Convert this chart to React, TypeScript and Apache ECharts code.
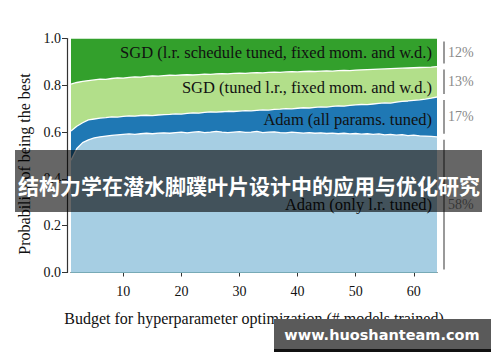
import React, { useEffect, useRef } from "react";
import * as echarts from "echarts";

// Budget (number of models trained), 1..64
const budgets = Array.from({ length: 64 }, (_, i) => String(i + 1));

// Cumulative probability of being the best, stacked bottom to top
const adamLrTop = [
  0.48, 0.53, 0.555, 0.567, 0.575, 0.58, 0.583, 0.586, 0.588, 0.59,
  0.592, 0.59, 0.593, 0.595, 0.593, 0.596, 0.597, 0.595, 0.598, 0.6,
  0.597, 0.6, 0.602, 0.598, 0.6, 0.603, 0.6, 0.598, 0.6, 0.602,
  0.599, 0.6, 0.603, 0.598, 0.6, 0.601, 0.598, 0.597, 0.6, 0.598,
  0.596, 0.598, 0.595, 0.597, 0.594, 0.596, 0.593, 0.595, 0.592, 0.594,
  0.591, 0.593, 0.59, 0.592, 0.588, 0.59, 0.587, 0.589, 0.585, 0.587,
  0.584, 0.583, 0.582, 0.58,
];
const adamAllTop = [
  0.605, 0.625, 0.64, 0.652, 0.656, 0.66, 0.662, 0.665, 0.664, 0.667,
  0.669, 0.668, 0.671, 0.672, 0.67, 0.673, 0.675, 0.676, 0.678, 0.677,
  0.68, 0.682, 0.681, 0.684, 0.686, 0.685, 0.687, 0.689, 0.688, 0.69,
  0.692, 0.691, 0.693, 0.695, 0.694, 0.697, 0.698, 0.7, 0.699, 0.702,
  0.704, 0.703, 0.706, 0.708, 0.707, 0.71, 0.712, 0.711, 0.714, 0.716,
  0.718, 0.717, 0.72, 0.723, 0.725, 0.724, 0.728, 0.731, 0.733, 0.736,
  0.738, 0.741, 0.745, 0.75,
];
const sgdTunedTop = [
  0.805, 0.812, 0.817, 0.82, 0.823, 0.826, 0.825, 0.829, 0.832, 0.831,
  0.834, 0.836, 0.835, 0.838, 0.84, 0.839, 0.841, 0.843, 0.842, 0.844,
  0.845, 0.844, 0.846, 0.848, 0.847, 0.849, 0.85, 0.849, 0.851, 0.852,
  0.851, 0.853, 0.854, 0.853, 0.855, 0.856, 0.855, 0.857, 0.858, 0.857,
  0.859, 0.86, 0.859, 0.861, 0.862, 0.861, 0.863, 0.864, 0.863, 0.865,
  0.866, 0.867, 0.868, 0.869, 0.87, 0.871, 0.872, 0.873, 0.874, 0.875,
  0.876, 0.877, 0.878, 0.88,
];
// The four shares always sum to one
const sgdScheduleTop = budgets.map(() => 1);

const seriesNames = [
  "Adam (only l.r. tuned)",
  "Adam (all params. tuned)",
  "SGD (tuned l.r., fixed mom. and w.d.)",
  "SGD (l.r. schedule tuned, fixed mom. and w.d.)",
];
const seriesColors = ["#a6cee3", "#1f78b4", "#b2df8a", "#33a02c"];
// Share of each optimizer at the largest budget, in percent
const finalShares = [58, 17, 13, 12];

const SERIF = "'Liberation Serif', 'DejaVu Serif', serif";

export default function App() {
  const ref = useRef<HTMLDivElement>(null);

  useEffect(() => {
    if (!ref.current) return;
    const chart = echarts.init(ref.current, undefined, { renderer: "svg" });

    const layers = [adamLrTop, adamAllTop, sgdTunedTop, sgdScheduleTop];

    // Draw top layer first so each lower boundary fills over it
    const areaSeries = layers
      .map((data, i) => ({
        name: seriesNames[i],
        type: "line",
        data,
        symbol: "none",
        smooth: false,
        lineStyle: { color: "#ffffff", width: i === 3 ? 0 : 1.3 },
        areaStyle: { color: seriesColors[i], opacity: 1, origin: "start" },
      }))
      .reverse();

    // Bracket spans: cumulative low/high per optimizer at the final budget
    const bracketData: number[][] = [];
    let acc = 0;
    finalShares.forEach((s) => {
      bracketData.push([budgets.length - 1, acc / 100, (acc + s) / 100, s]);
      acc += s;
    });

    const bracketSeries = {
      type: "custom",
      clip: false,
      z: 5,
      data: bracketData,
      renderItem: (params: any, api: any) => {
        const xi = api.value(0);
        const lo = api.coord([xi, api.value(1)]);
        const hi = api.coord([xi, api.value(2)]);
        const x = lo[0] + 7;
        const yTop = hi[1] + 3;
        const yBot = lo[1] - 3;
        return {
          type: "group",
          children: [
            {
              type: "line",
              shape: { x1: x, y1: yTop, x2: x, y2: yBot },
              style: { stroke: "#999999", lineWidth: 2 },
            },
            {
              type: "text",
              x: x + 4,
              y: (yTop + yBot) / 2,
              style: {
                text: api.value(3) + "%",
                fill: "#8a8a8a",
                fontFamily: SERIF,
                fontSize: 14,
                align: "left",
                verticalAlign: "middle",
              },
            },
          ],
        };
      },
    };

    const areaLabel = (text: string, y: number) => ({
      type: "text",
      x: 432,
      y,
      z: 10,
      style: {
        text,
        fill: "#111111",
        fontFamily: SERIF,
        fontSize: 16.5,
        align: "right",
        verticalAlign: "middle",
      },
    });

    chart.setOption({
      animation: false,
      backgroundColor: "#ffffff",
      grid: { left: 71, right: 63, top: 38.5, bottom: 89.5 },
      xAxis: {
        type: "category",
        data: budgets,
        boundaryGap: false,
        offset: 6,
        name: "Budget for hyperparameter optimization (# models trained)",
        nameLocation: "middle",
        nameGap: 32,
        nameTextStyle: { fontFamily: SERIF, fontSize: 16, color: "#111" },
        axisLine: { lineStyle: { color: "#333", width: 1.2 } },
        axisTick: {
          length: 4,
          lineStyle: { color: "#333" },
          interval: (_i: number, v: string) => Number(v) % 10 === 0,
        },
        axisLabel: {
          margin: 6,
          fontFamily: SERIF,
          fontSize: 14,
          color: "#111",
          interval: (_i: number, v: string) => Number(v) % 10 === 0,
        },
        splitLine: { show: false },
      },
      yAxis: {
        type: "value",
        min: 0,
        max: 1,
        interval: 0.2,
        offset: 4,
        axisLine: { show: true, lineStyle: { color: "#333", width: 1.2 } },
        axisTick: { show: true, length: 5, lineStyle: { color: "#333" } },
        axisLabel: {
          margin: 6,
          fontFamily: SERIF,
          fontSize: 14,
          color: "#111",
          formatter: (v: number) => v.toFixed(1),
        },
        splitLine: { show: false },
      },
      series: [...areaSeries, bracketSeries],
      graphic: [
        {
          type: "text",
          x: 24,
          y: 164,
          rotation: Math.PI / 2,
          z: 10,
          style: {
            text: "Probability of being the best",
            fill: "#111",
            fontFamily: SERIF,
            fontSize: 16,
            align: "center",
            verticalAlign: "middle",
          },
        },
        areaLabel(seriesNames[3], 52),
        areaLabel(seriesNames[2], 87),
        areaLabel(seriesNames[1], 119),
        areaLabel(seriesNames[0], 204),
        {
          type: "rect",
          z: 100,
          shape: { x: 15, y: 150, width: 467, height: 62 },
          style: { fill: "rgba(0,0,0,0.6)" },
        },
        {
          type: "text",
          z: 101,
          x: 249,
          y: 185,
          style: {
            text: "结构力学在潜水脚蹼叶片设计中的应用与优化研究",
            fill: "#ffffff",
            fontFamily: "'Noto Sans CJK SC', sans-serif",
            fontWeight: "bold",
            fontSize: 21,
            align: "center",
            verticalAlign: "middle",
          },
        },
        {
          type: "rect",
          z: 100,
          shape: { x: 274, y: 319, width: 217, height: 31 },
          style: { fill: "#5a5a5a" },
        },
        {
          type: "rect",
          z: 100,
          shape: { x: 274, y: 349, width: 217, height: 3 },
          style: { fill: "#111111" },
        },
        {
          type: "text",
          z: 101,
          x: 382,
          y: 335,
          style: {
            text: "www.huoshanteam.com",
            fill: "#ffffff",
            fontFamily: "'DejaVu Sans', sans-serif",
            fontWeight: "bold",
            fontSize: 14.5,
            align: "center",
            verticalAlign: "middle",
          },
        },
      ],
    });

    return () => chart.dispose();
  }, []);

  return (
    <div
      ref={ref}
      style={{ position: "absolute", left: 0, top: 0, width: 500, height: 362 }}
    />
  );
}
